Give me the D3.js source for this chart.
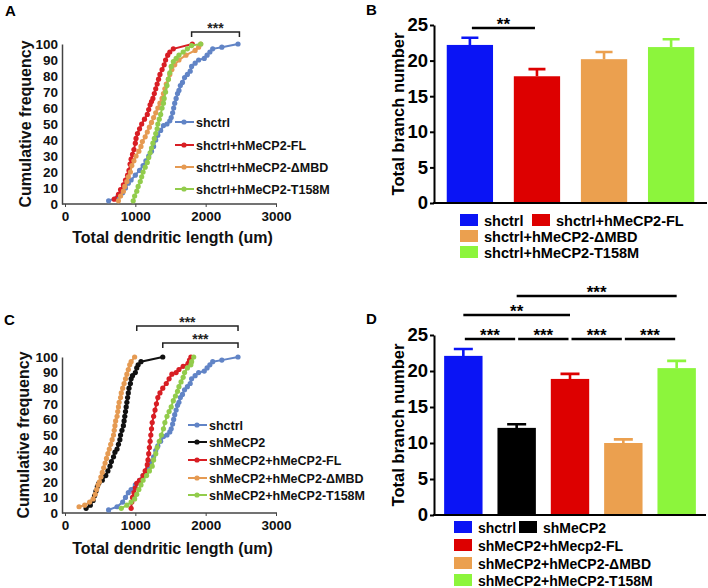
<!DOCTYPE html>
<html>
<head>
<meta charset="utf-8">
<script src="https://cdn.jsdelivr.net/npm/d3@7"></script>
<style>
body { margin: 0; background: #fff; }
svg { display: block; }
text { font-family: "Liberation Sans", Arial, sans-serif; font-weight: bold; }
</style>
</head>
<body>
<div id="fig"></div>
<script>
// cumulative frequency curves, each point = [total dendritic length (um), cumulative %]
var shctrlCdf = [[620,2],[740,4],[820,7],[860,10],[900,13],[940,15],[1000,18],[1060,21],[1110,24],[1150,27],[1190,30],[1230,33],[1260,36],[1290,40],[1320,43],[1360,46],[1400,49],[1450,50],[1490,52],[1510,54],[1530,57],[1545,60],[1560,63],[1580,66],[1600,69],[1620,71],[1640,74],[1670,76],[1700,79],[1740,81],[1780,83],[1800,86],[1850,88],[1900,90],[1980,91],[2020,93],[2060,95],[2100,97],[2230,98],[2460,100]];
var ctrlFlCdf = [[700,3],[760,6],[790,9],[830,12],[860,15],[890,18],[910,21],[925,25],[940,28],[960,31],[980,34],[1000,38],[1010,41],[1030,44],[1060,47],[1090,50],[1130,53],[1170,56],[1190,59],[1210,62],[1230,64],[1250,66],[1270,69],[1290,72],[1310,75],[1330,78],[1350,81],[1380,84],[1410,87],[1430,90],[1460,93],[1490,95],[1540,97],[1810,100]];
var ctrlMbdCdf = [[760,2],[790,5],[830,8],[850,11],[880,14],[900,17],[930,20],[950,24],[980,27],[1010,30],[1050,33],[1080,36],[1100,39],[1140,42],[1170,45],[1200,48],[1230,51],[1260,54],[1290,57],[1320,60],[1350,63],[1380,66],[1400,69],[1420,72],[1440,75],[1470,78],[1490,81],[1520,84],[1560,87],[1620,90],[1720,93],[1850,96],[1900,98],[1930,100]];
var ctrlT158Cdf = [[970,2],[990,5],[1020,8],[1040,11],[1070,14],[1090,17],[1110,20],[1140,23],[1170,26],[1190,29],[1210,32],[1230,35],[1250,38],[1270,41],[1290,44],[1310,47],[1320,50],[1340,53],[1360,56],[1380,60],[1400,63],[1410,66],[1430,70],[1450,74],[1470,78],[1490,82],[1510,86],[1540,89],[1580,91],[1620,93],[1680,95],[1740,97],[1800,99],[1930,100]];

var shMecpCdf = [[300,3],[360,5],[400,8],[420,11],[440,14],[460,17],[480,19],[530,21],[580,24],[610,27],[640,30],[660,33],[690,36],[710,39],[740,41],[760,44],[780,47],[790,50],[810,53],[830,56],[840,59],[850,62],[860,65],[870,68],[880,71],[890,74],[900,77],[910,80],[930,83],[940,86],[960,88],[1000,90],[1020,93],[1040,95],[1080,97],[1390,100]];
var shFlCdf = [[940,3],[950,7],[960,10],[980,13],[1000,16],[1020,19],[1060,21],[1110,24],[1140,27],[1170,31],[1180,34],[1190,38],[1200,42],[1210,46],[1220,50],[1230,54],[1240,58],[1260,62],[1280,66],[1300,70],[1320,74],[1350,77],[1390,80],[1440,83],[1480,86],[1520,89],[1580,90],[1620,92],[1680,94],[1750,96],[1770,98],[1790,100]];
var shMbdCdf = [[200,4],[280,5],[350,7],[400,9],[430,12],[450,15],[470,18],[490,20],[510,23],[530,26],[550,29],[570,32],[590,35],[610,38],[630,41],[650,44],[670,47],[690,50],[700,53],[710,56],[720,59],[740,62],[750,65],[760,68],[770,71],[790,74],[800,77],[820,80],[840,83],[860,86],[880,89],[900,92],[920,95],[940,97],[990,100]];
var shT158Cdf = [[800,3],[880,5],[940,7],[990,9],[1020,12],[1050,15],[1080,18],[1110,21],[1160,24],[1200,27],[1240,30],[1260,34],[1290,38],[1310,42],[1340,46],[1370,50],[1400,54],[1420,58],[1450,62],[1480,65],[1510,68],[1540,72],[1570,75],[1600,78],[1620,81],[1650,84],[1680,87],[1700,90],[1740,93],[1790,95],[1800,97],[1830,100]];

var namesA = ["shctrl", "shctrl+hMeCP2-FL", "shctrl+hMeCP2-\u0394MBD", "shctrl+hMeCP2-T158M"];
var namesC = ["shctrl", "shMeCP2", "shMeCP2+hMeCP2-FL", "shMeCP2+hMeCP2-\u0394MBD", "shMeCP2+hMeCP2-T158M"];
var lineColA = ["#6184c6", "#d81e24", "#e59a52", "#92cc4c"];
var lineColC = ["#6184c6", "#111111", "#d81e24", "#e59a52", "#92cc4c"];
var cdfXTicks = [0, 1000, 2000, 3000];
var cdfYTicks = [0, 10, 20, 30, 40, 50, 60, 70, 80, 90, 100];

// bar panels: mean and SEM (upper bar only)
var namesB = ["shctrl", "shctrl+hMeCP2-FL", "shctrl+hMeCP2-\u0394MBD", "shctrl+hMeCP2-T158M"];
var meanB = [22.2, 17.8, 20.2, 21.9];
var semB = [1.0, 1.0, 1.0, 1.1];
var namesD = ["shctrl", "shMeCP2", "shMeCP2+hMecp2-FL", "shMeCP2+hMeCP2-\u0394MBD", "shMeCP2+hMeCP2-T158M"];
var meanD = [22.1, 12.1, 18.9, 10.0, 20.4];
var semD = [0.95, 0.5, 0.7, 0.5, 1.0];
var barColB = ["#0a14f5", "#dd0000", "#eba04f", "#8cf53c"];
var barColD = ["#0a14f5", "#000000", "#dd0000", "#eba04f", "#8cf53c"];
var barYTicks = [0, 5, 10, 15, 20, 25];

var svg = d3.select("#fig").append("svg")
    .attr("width", 708)
    .attr("height", 588);

function drawCdf(opt) {
    var g = svg.append("g");
    var x = d3.scaleLinear().domain([0, 3000]).range([opt.x0, opt.x1]);
    var y = d3.scaleLinear().domain([0, 100]).range([opt.y0, opt.y1]);

    var xa = g.append("g").attr("transform", "translate(0," + opt.y0 + ")")
        .call(d3.axisBottom(x).tickValues(cdfXTicks).tickFormat(d3.format("d")).tickSize(3).tickSizeOuter(0).tickPadding(4));
    var ya = g.append("g").attr("transform", "translate(" + (opt.x0 - 3) + ",0)")
        .call(d3.axisLeft(y).tickValues(cdfYTicks).tickSize(0).tickPadding(4));
    [xa, ya].forEach(function (a) {
        a.select(".domain").attr("stroke", "#444").attr("stroke-width", 1.5);
        a.selectAll("line").attr("stroke", "#444");
        a.selectAll("text").attr("font-family", "Lato, sans-serif").attr("font-size", 13.5).attr("font-weight", "bold").attr("fill", "#111");
    });
    xa.select(".domain").attr("d", "M" + (opt.x0 - 3) + ",0H" + (opt.x1 + 1));

    var line = d3.line().x(d => x(d[0])).y(d => y(d[1]));
    opt.series.forEach(function (s, i) {
        g.append("path").datum(s).attr("d", line)
            .attr("fill", "none").attr("stroke", opt.colors[i]).attr("stroke-width", 2);
        g.selectAll(null).data(s).join("circle")
            .attr("cx", d => x(d[0])).attr("cy", d => y(d[1])).attr("r", 2.6)
            .attr("fill", opt.colors[i]);
    });

    // legend
    opt.names.forEach(function (n, i) {
        var ly = opt.legY[i];
        g.append("line").attr("x1", opt.legX).attr("x2", opt.legX + 19).attr("y1", ly).attr("y2", ly)
            .attr("stroke", opt.colors[i]).attr("stroke-width", 2);
        g.append("circle").attr("cx", opt.legX + 9).attr("cy", ly).attr("r", 2.6).attr("fill", opt.colors[i]);
        g.append("text").attr("x", opt.legX + 21).attr("y", ly + 4.5)
            .attr("font-family", "Lato, sans-serif").attr("font-size", 12.5).attr("font-weight", "bold")
            .attr("fill", "#111").text(n);
    });

    // significance brackets
    opt.brackets.forEach(function (b) {
        var bx0 = x(b.from), bx1 = x(b.to);
        g.append("path").attr("d", "M" + bx0 + "," + (b.y + 5) + "V" + b.y + "H" + bx1 + "V" + (b.y + 5))
            .attr("fill", "none").attr("stroke", "#222").attr("stroke-width", 1.5);
        g.append("text").attr("x", (bx0 + bx1) / 2).attr("y", b.y + 1).attr("text-anchor", "middle")
            .attr("font-size", 14).attr("fill", "#222").text(b.label);
    });

    g.append("text").attr("x", (opt.x0 + opt.x1) / 2 + 2).attr("y", opt.titleY)
        .attr("text-anchor", "middle").attr("font-size", 16).attr("fill", "#111")
        .text("Total dendritic length (um)");
    g.append("text").attr("transform", "translate(" + opt.ytitleX + "," + ((opt.y0 + opt.y1) / 2) + ") rotate(-90)")
        .attr("text-anchor", "middle").attr("font-size", 16).attr("fill", "#111")
        .text("Cumulative frequency");
}

function drawBars(opt) {
    var g = svg.append("g");
    var x = d3.scaleBand().domain(opt.names).range([opt.x0, opt.x1]).paddingInner(opt.pad).paddingOuter(0.19);
    var y = d3.scaleLinear().domain([0, 25]).range([opt.y0, opt.y1]);

    g.selectAll(null).data(opt.names).join("rect")
        .attr("x", d => x(d)).attr("width", x.bandwidth())
        .attr("y", (d, i) => y(opt.mean[i])).attr("height", (d, i) => opt.y0 - y(opt.mean[i]))
        .attr("fill", (d, i) => opt.colors[i]);
    var cap = opt.cap;
    g.selectAll(null).data(opt.names).join("path")
        .attr("d", function (d, i) {
            var cx = x(d) + x.bandwidth() / 2;
            var top = y(opt.mean[i] + opt.sem[i]);
            return "M" + cx + "," + y(opt.mean[i]) + "V" + top + "M" + (cx - cap / 2) + "," + top + "H" + (cx + cap / 2);
        })
        .attr("fill", "none").attr("stroke", (d, i) => opt.colors[i]).attr("stroke-width", 2.6);

    var ya = g.append("g").attr("transform", "translate(" + opt.x0 + ",0)")
        .call(d3.axisLeft(y).tickValues(barYTicks).tickSize(4).tickSizeOuter(0).tickPadding(2));
    ya.select(".domain").attr("stroke", "#000").attr("stroke-width", 2);
    ya.selectAll("line").attr("stroke", "#000").attr("stroke-width", 2);
    ya.selectAll("text").attr("font-size", opt.tickFont).attr("font-weight", "bold").attr("fill", "#000");
    g.append("line").attr("x1", opt.x0 - 1).attr("x2", opt.x1).attr("y1", opt.y0).attr("y2", opt.y0)
        .attr("stroke", "#000").attr("stroke-width", 2);

    g.append("text").attr("transform", "translate(" + opt.ytitleX + "," + ((opt.y0 + opt.y1) / 2) + ") rotate(-90)")
        .attr("text-anchor", "middle").attr("font-size", opt.titleFont).attr("fill", "#000")
        .text("Total branch number");

    // significance lines between bar centres
    opt.sig.forEach(function (s) {
        var a = x(opt.names[s.from]) + x.bandwidth() / 2 + (s.gap || 0);
        var b = x(opt.names[s.to]) + x.bandwidth() / 2 - (s.gap || 0);
        g.append("line").attr("x1", a).attr("x2", b).attr("y1", s.y).attr("y2", s.y)
            .attr("stroke", "#000").attr("stroke-width", 2.5);
        g.append("text").attr("x", (a + b) / 2).attr("y", s.y + 2).attr("text-anchor", "middle")
            .attr("font-size", opt.starFont).attr("fill", "#000").text(s.label);
    });

    // legend
    opt.legend.forEach(function (l) {
        var i = opt.names.indexOf(l.name);
        g.append("rect").attr("x", l.x).attr("y", l.y - 6).attr("width", 18).attr("height", 12)
            .attr("fill", opt.colors[i]);
        g.append("text").attr("x", l.x + 24).attr("y", l.y + 5.5)
            .attr("font-size", opt.legFont).attr("fill", "#000").text(l.name);
    });
}

drawCdf({
    x0: 65, x1: 276, y0: 204, y1: 44,
    series: [shctrlCdf, ctrlFlCdf, ctrlMbdCdf, ctrlT158Cdf],
    colors: lineColA, names: namesA,
    legX: 175, legY: [122, 145, 167, 189],
    brackets: [{from: 1800, to: 2480, y: 32, label: "***"}],
    titleY: 243, ytitleX: 31
});

drawCdf({
    x0: 65, x1: 276, y0: 513, y1: 357,
    series: [shctrlCdf, shMecpCdf, shFlCdf, shMbdCdf, shT158Cdf],
    colors: lineColC, names: namesC,
    legX: 188, legY: [425, 442, 460, 478, 495],
    brackets: [{from: 1020, to: 2460, y: 326, label: "***"}, {from: 1390, to: 2460, y: 343, label: "***"}],
    titleY: 554, ytitleX: 29
});

drawBars({
    x0: 434, x1: 707, y0: 203, y1: 25, pad: 0.31,
    names: namesB, mean: meanB, sem: semB, colors: barColB, cap: 17,
    tickFont: 18.5, titleFont: 16.5, starFont: 17, legFont: 14.5, ytitleX: 404,
    sig: [{from: 0, to: 1, y: 28, label: "**", gap: 2}],
    legend: [{name: namesB[0], x: 460, y: 220}, {name: namesB[1], x: 532, y: 220},
             {name: namesB[2], x: 460, y: 236}, {name: namesB[3], x: 460, y: 252}]
});

drawBars({
    x0: 434, x1: 706, y0: 515, y1: 335, pad: 0.28,
    names: namesD, mean: meanD, sem: semD, colors: barColD, cap: 19,
    tickFont: 18.5, titleFont: 16.5, starFont: 17, legFont: 14, ytitleX: 404,
    sig: [{from: 0, to: 1, y: 339, label: "***", gap: 1.5}, {from: 1, to: 2, y: 339, label: "***", gap: 1.5},
          {from: 2, to: 3, y: 339, label: "***", gap: 1.5}, {from: 3, to: 4, y: 339, label: "***", gap: 1.5},
          {from: 0, to: 2, y: 315, label: "**"}, {from: 1, to: 4, y: 296, label: "***"}],
    legend: [{name: namesD[0], x: 454, y: 527}, {name: namesD[1], x: 519, y: 527},
             {name: namesD[2], x: 454, y: 545}, {name: namesD[3], x: 454, y: 563},
             {name: namesD[4], x: 454, y: 580}]
});

// panel letters
[["A", 5, 16], ["B", 366, 15], ["C", 4, 325], ["D", 366, 324]].forEach(function (p) {
    svg.append("text").attr("x", p[1]).attr("y", p[2]).attr("font-size", 15).attr("fill", "#000").text(p[0]);
});
</script>
</body>
</html>
